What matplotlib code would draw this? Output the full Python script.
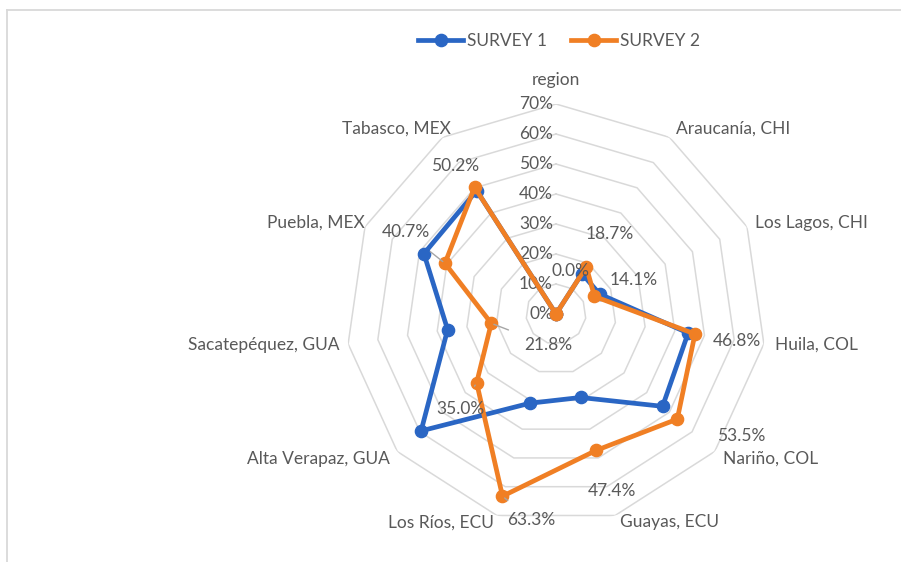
import numpy as np
import matplotlib
matplotlib.use("Agg")
import matplotlib.pyplot as plt
from matplotlib.lines import Line2D

categories = ["region", "Araucanía, CHI", "Los Lagos, CHI", "Huila, COL", "Nariño, COL",
              "Guayas, ECU", "Los Ríos, ECU", "Alta Verapaz, GUA", "Sacatepéquez, GUA",
              "Puebla, MEX", "Tabasco, MEX"]
survey1 = [0.0, 16.0, 16.0, 44.5, 47.0, 29.0, 31.0, 59.5, 36.5, 48.4, 48.9]
survey2 = [0.0, 18.7, 14.1, 46.8, 53.5, 47.4, 63.3, 35.0, 21.8, 40.7, 50.2]
series_names = ["SURVEY 1", "SURVEY 2"]
rings = [0, 10, 20, 30, 40, 50, 60, 70]

BLUE = "#2A66C4"
ORANGE = "#F07F24"
TEXT = "#595959"
GRID = "#D9D9D9"
FS = 12.5

plt.rcParams["font.family"] = ["Lato", "DejaVu Sans"]

W, H = 901, 562
cx, cy, R = 556, 314, 210

fig = plt.figure(figsize=(W / 100, H / 100), dpi=100)
ax = fig.add_axes([(cx - R) / W, (H - cy - R) / H, 2 * R / W, 2 * R / H], projection="polar")
ax.set_theta_zero_location("N")
ax.set_theta_direction(-1)
ax.set_ylim(0, 70)
ax.grid(False)
ax.spines["polar"].set_visible(False)
ax.set_xticks([])
ax.set_yticks([])
ax.patch.set_alpha(0)

n = len(categories)
theta = np.arange(n) * 2 * np.pi / n
theta_c = np.append(theta, theta[0])

# polygon gridlines
for r in rings[1:]:
    ax.plot(theta_c, [r] * (n + 1), color=GRID, lw=1.1, zorder=1)

# radial tick labels along the top axis
for r in rings:
    ax.annotate(f"{r}%", xy=(0, r), xytext=(-3, 0), textcoords="offset pixels",
                ha="right", va="center", fontsize=FS, color=TEXT, zorder=2)

# category labels (dx, dy in pixels, dy positive = down)
cat_off = [(0, -24), (6, -9), (8, -4), (11, 1), (8, 7), (5, 7), (-3, 7), (-7, 7), (-9, 1), (0, -4), (8, -9)]
for i, (lab, (dx, dy)) in enumerate(zip(categories, cat_off)):
    ang = theta[i]
    if i == 0:
        ha = "center"
    elif np.sin(ang) > 0:
        ha = "left"
    else:
        ha = "right"
    ax.annotate(lab, xy=(ang, 70), xytext=(dx, -dy), textcoords="offset pixels",
                ha=ha, va="center", fontsize=FS, color=TEXT)

s1 = survey1 + [survey1[0]]
s2 = survey2 + [survey2[0]]
ax.plot(theta_c, s1, color=BLUE, lw=3.4, marker="o", ms=8.8, zorder=4, clip_on=False)
ax.plot(theta_c, s2, color=ORANGE, lw=3.4, marker="o", ms=8.8, zorder=5, clip_on=False)

# data labels for survey 2 (offsets in pixels, some with leader lines)
lab_off = [(14, -43), (23, -33), (39, -16), (42, 7), (64, 17), (16, 41),
           (29, 24), (-16, 26), (57, 22), (-39, -31), (-20, -21)]
leaders = [False, False, False, False, False, False, True, True, True, True, False]
for i, v in enumerate(survey2):
    dx, dy = lab_off[i]
    kw = {}
    if leaders[i]:
        kw["arrowprops"] = dict(arrowstyle="-", color="#A6A6A6", lw=1, shrinkA=10, shrinkB=2)
    ax.annotate(f"{v:.1f}%", xy=(theta[i], v), xytext=(dx, -dy), textcoords="offset pixels",
                ha="center", va="center", fontsize=FS, color=TEXT, zorder=6, **kw)

# legend
handles = [Line2D([], [], color=c, lw=3.4, marker="o", ms=8.8) for c in (BLUE, ORANGE)]
fig.legend(handles, series_names, loc="center", bbox_to_anchor=(559 / W, 1 - 41 / H),
           ncol=2, frameon=False, fontsize=FS, labelcolor=TEXT, handlelength=2.6,
           handletextpad=0.2, columnspacing=1.4)

# chart area border (top and left visible)
fig.add_artist(Line2D([7 / W, 1], [1 - 10 / H, 1 - 10 / H], transform=fig.transFigure, color="#D9D9D9", lw=1.3))
fig.add_artist(Line2D([7 / W, 7 / W], [0, 1 - 10 / H], transform=fig.transFigure, color="#D9D9D9", lw=1.3))

fig.savefig("out.png", dpi=100, facecolor="white")
